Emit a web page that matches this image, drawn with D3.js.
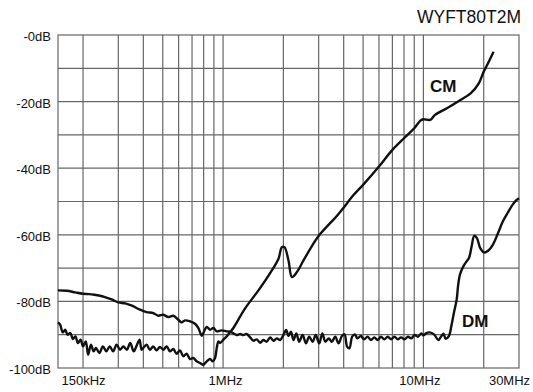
<!DOCTYPE html>
<html>
<head>
<meta charset="utf-8">
<script src="https://cdn.jsdelivr.net/npm/d3@7"></script>
<style>
  body { margin: 0; background: #fff; }
  svg { display: block; font-family: "Liberation Sans", Arial, Helvetica, sans-serif; }
</style>
</head>
<body>
<svg width="533" height="392"></svg>
<script>
// chart values (frequency in MHz, level in dB)
var title = "WYFT80T2M";

var dmMHz = [0.150, 0.166, 0.183, 0.200, 0.214, 0.228, 0.243, 0.257, 0.278, 0.300, 0.325, 0.351, 0.385, 0.415, 0.448, 0.475, 0.503, 0.533, 0.565, 0.598, 0.621, 0.646, 0.684, 0.724, 0.753, 0.782, 0.797, 0.829, 0.861, 0.895, 0.930, 0.985,
  1.043, 1.084, 1.126, 1.17, 1.216, 1.263, 1.31, 1.365, 1.418, 1.473, 1.531, 1.59, 1.65, 1.718, 1.785, 1.854, 1.927, 2.0, 2.064, 2.121, 2.181, 2.248, 2.32, 2.4, 2.495, 2.594, 2.69, 2.8, 2.9, 3.02, 3.13, 3.24, 3.37, 3.49, 3.63, 3.77, 3.92,
  4.04, 4.16, 4.27, 4.41, 4.55, 4.68, 4.87, 5.06, 5.26, 5.47, 5.69, 5.91, 6.14, 6.38, 6.64, 6.9, 7.17, 7.45, 7.74, 8.05, 8.37, 8.7, 9.04, 9.4, 9.77, 10.0, 10.3, 10.74, 11.33, 11.87, 12.3, 12.6, 12.9, 13.4,
  13.79, 14.2, 14.66, 14.89, 15.23, 15.85, 16.46, 16.9, 17.4, 17.93, 18.5, 19.22, 20.1, 21.1, 22.2, 23.5, 24.9, 26.4, 28.0, 29.1, 30.0];
var dmDb = [-76.7, -76.8, -77.3, -77.7, -77.8, -78.0, -78.3, -78.7, -79.4, -80.3, -80.6, -81.3, -82.5, -83.2, -83.5, -84.3, -84.0, -84.7, -84.3, -85.5, -86.3, -85.7, -86.0, -86.7, -88.0, -90.3, -89.5, -87.7, -88.5, -88.0, -89.0, -88.7,
  -89.0, -89.1, -89.6, -90.1, -89.8, -90.1, -89.8, -90.8, -91.8, -91.4, -92.4, -91.6, -92.1, -90.8, -91.8, -91.1, -91.6, -90.1, -88.6, -90.4, -89.1, -91.6, -89.6, -92.1, -90.1, -92.6, -90.6, -92.1, -90.1, -92.6, -89.6, -92.1, -91.1, -92.1, -90.6, -92.6, -90.4,
  -89.9, -93.6, -94.1, -90.6, -89.9, -91.1, -90.4, -91.4, -90.6, -91.6, -90.8, -91.6, -90.6, -91.4, -90.6, -91.4, -90.6, -91.4, -90.8, -91.4, -90.6, -91.1, -90.1, -90.6, -89.6, -90.2, -89.6, -89.3, -90.0, -91.6, -90.4, -89.7, -91.2, -90.4,
  -87.4, -83.4, -79.4, -75.4, -71.9, -69.4, -67.9, -66.9, -63.5, -60.3, -61.0, -64.0, -65.3, -64.7, -63.0, -59.7, -56.0, -53.3, -50.8, -49.6, -49.0];

var cmMHz = [0.150, 0.1537, 0.1585, 0.163, 0.1675, 0.173, 0.178, 0.1833, 0.1885, 0.1945, 0.200, 0.2064, 0.2121, 0.219, 0.226, 0.232, 0.2415, 0.2513, 0.2614, 0.272, 0.2827, 0.294, 0.306, 0.318, 0.331, 0.344, 0.358, 0.372, 0.383, 0.392,
  0.3996, 0.415, 0.4315, 0.448, 0.466, 0.484, 0.503, 0.523, 0.543, 0.5645, 0.5865, 0.6095, 0.6334, 0.658, 0.684, 0.7105, 0.738, 0.767, 0.797, 0.829, 0.861, 0.888, 0.912, 0.930, 0.948, 0.966, 1.004, 1.043, 1.084, 1.126,
  1.288, 1.502, 1.752, 1.891, 1.966, 2.025, 2.121, 2.206, 2.336, 2.52, 2.78, 3.03, 3.36, 3.63, 3.92, 4.49, 5.0, 6.0, 7.0, 8.0, 9.0, 9.66, 10.0, 10.8, 11.43, 13.1, 15.3, 17.2, 18.9, 20.0, 20.8, 22.4];
var cmDb = [-86.3, -87.0, -89.3, -88.5, -90.0, -89.5, -91.3, -90.5, -92.5, -91.5, -93.5, -92.0, -96.0, -93.0, -95.0, -94.0, -95.5, -93.5, -95.0, -93.5, -95.0, -93.0, -94.5, -93.5, -94.5, -92.5, -95.0, -93.0, -91.5, -94.5,
  -94.0, -93.0, -94.5, -93.5, -94.7, -93.7, -94.5, -93.5, -95.0, -94.3, -95.7, -94.7, -96.5, -95.7, -97.3, -97.0, -98.0, -98.5, -99.0, -98.0, -97.3, -98.0, -97.0, -94.0, -92.0, -92.5, -91.5, -90.5, -89.3, -88.0,
  -82.1, -76.7, -70.7, -67.2, -63.7, -63.7, -67.7, -72.7, -71.2, -67.7, -63.3, -60.0, -57.0, -54.9, -52.5, -48.0, -45.0, -39.5, -34.5, -31.0, -28.0, -25.7, -25.3, -25.5, -24.0, -22.0, -19.5, -17.5, -14.5, -11.0, -9.0, -5.0];

var gridMHz = [0.2, 0.3, 0.4, 0.5, 0.6, 0.7, 0.8, 0.9, 1, 2, 3, 4, 5, 6, 7, 8, 9, 10, 20];
var gridDb = [-10, -20, -30, -40, -50, -60, -70, -80, -90];
var yTicks = [0, -20, -40, -60, -80, -100];
var yTickLabels = ["-0dB", "-20dB", "-40dB", "-60dB", "-80dB", "-100dB"];
var xTicks = [0.15, 1, 10, 30];
var xTickLabels = ["150kHz", "1MHz", "10MHz", "30MHz"];

var svg = d3.select("svg");
var plotLeft = 58, plotRight = 519, plotTop = 35, plotBottom = 368;

var x = d3.scaleLog().domain([0.15, 30]).range([plotLeft, plotRight]);
var y = d3.scaleLinear().domain([-100, 0]).range([plotBottom, plotTop]);

// grid
var grid = svg.append("g").attr("stroke", "#666").attr("stroke-width", 1.2);
grid.selectAll(".vg").data(gridMHz).enter().append("line")
  .attr("x1", d => x(d)).attr("x2", d => x(d))
  .attr("y1", plotTop).attr("y2", plotBottom);
grid.selectAll(".hg").data(gridDb).enter().append("line")
  .attr("x1", plotLeft).attr("x2", plotRight)
  .attr("y1", d => y(d)).attr("y2", d => y(d));
grid.append("rect")
  .attr("x", plotLeft).attr("y", plotTop)
  .attr("width", plotRight - plotLeft).attr("height", plotBottom - plotTop)
  .attr("fill", "none");

// y axis labels
var yAxis = d3.axisLeft(y).tickValues(yTicks).tickSize(0).tickPadding(7)
  .tickFormat((d, i) => yTickLabels[i]);
svg.append("g").attr("transform", "translate(" + plotLeft + ",0)").call(yAxis)
  .call(g => g.select(".domain").remove())
  .selectAll("text")
  .attr("font-size", 13).attr("fill", "#111").attr("font-family", null)
  .attr("dy", "0.42em");

// x axis labels - the end ones sit inside, 10MHz is nudged left a little
var xShift = [3, 2, -4, -10];
var xAxis = d3.axisBottom(x).tickValues(xTicks).tickSize(0).tickPadding(0)
  .tickFormat((d, i) => xTickLabels[i]);
svg.append("g").attr("transform", "translate(0," + plotBottom + ")").call(xAxis)
  .call(g => g.select(".domain").remove())
  .selectAll("text")
  .attr("font-size", 13).attr("fill", "#111").attr("font-family", null)
  .attr("y", 17)
  .attr("dy", 0)
  .attr("text-anchor", (d, i) => i == 0 ? "start" : "middle")
  .attr("x", (d, i) => xShift[i]);

// title
svg.append("text")
  .attr("x", plotRight + 2).attr("y", 23)
  .attr("text-anchor", "end")
  .attr("font-size", 17.5).attr("fill", "#111")
  .text(title);

// curves
var line = d3.line()
  .x(d => x(d[0]))
  .y(d => y(d[1]))
  .curve(d3.curveCatmullRom.alpha(0.5));

var dm = dmMHz.map((f, i) => [f, dmDb[i]]);
var cm = cmMHz.map((f, i) => [f, cmDb[i]]);

svg.selectAll(".curve").data([dm, cm]).enter().append("path")
  .attr("class", "curve")
  .attr("d", line)
  .attr("fill", "none")
  .attr("stroke", "#111")
  .attr("stroke-width", 2.4)
  .attr("stroke-linejoin", "round");

// curve names
svg.append("text").attr("x", 430).attr("y", 92)
  .attr("font-size", 17).attr("font-weight", "bold").attr("fill", "#111")
  .text("CM");
svg.append("text").attr("x", 462).attr("y", 327)
  .attr("font-size", 17).attr("font-weight", "bold").attr("fill", "#111")
  .text("DM");
</script>
</body>
</html>
